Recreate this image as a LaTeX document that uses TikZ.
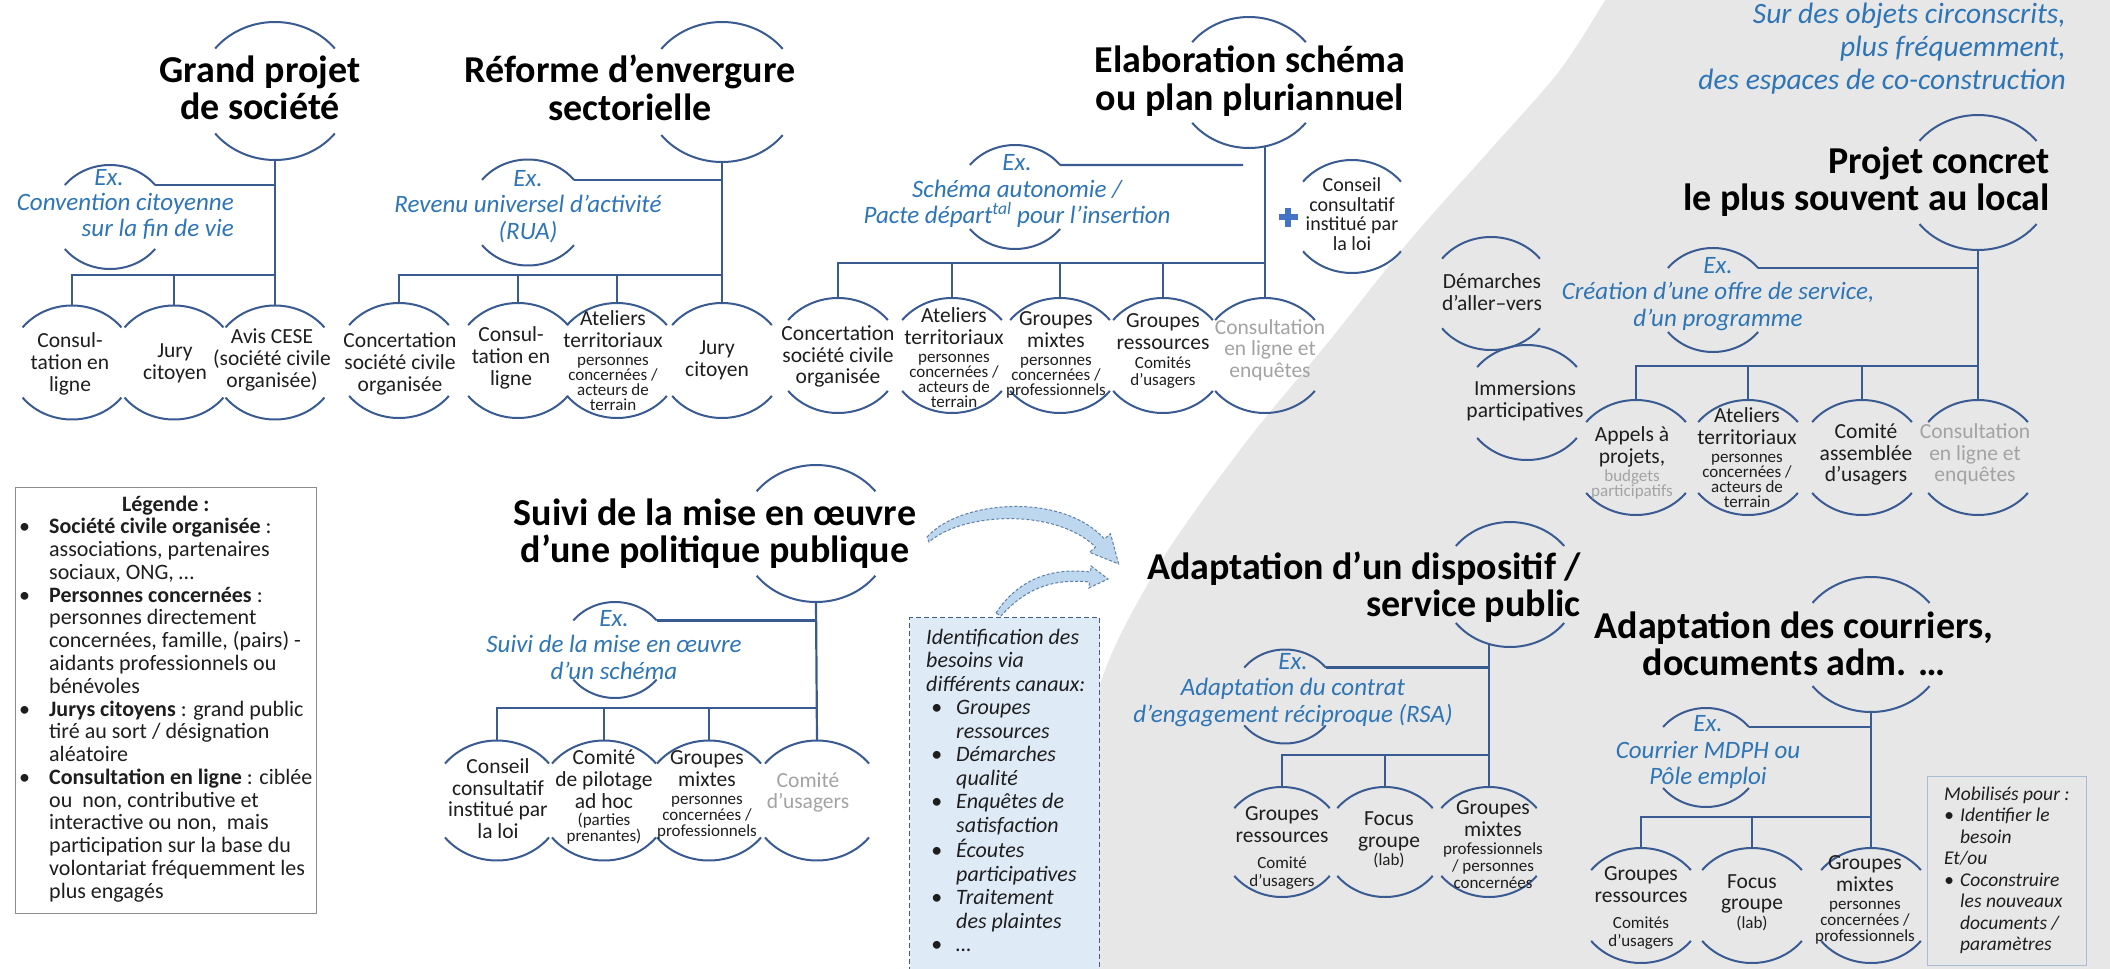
\documentclass[tikz,border=0pt]{standalone}
\usepackage{fontspec}
\setmainfont{Carlito}
\usetikzlibrary{calc}
\definecolor{ln}{HTML}{3A5A92}
\definecolor{exb}{HTML}{2E75B6}
\definecolor{gt}{HTML}{A3A3A3}
\definecolor{bgg}{HTML}{E7E7E7}
\definecolor{txt}{HTML}{1E1E1E}
\definecolor{boxf}{HTML}{DEEBF7}
\definecolor{boxd}{HTML}{3F5F8F}
\definecolor{arrf}{HTML}{BDD7EE}
\definecolor{arrd}{HTML}{5E7FA8}
\definecolor{plusc}{HTML}{4472C4}
\definecolor{mobd}{HTML}{A9BCD3}
\definecolor{legd}{HTML}{8C8C8C}
\newcommand\sm{\fontsize{17}{15}\selectfont}
\newcommand\smg{\fontsize{17}{15}\selectfont\color{gt}}
\newcommand\bub[4]{%
  \coordinate (#1) at (#2,#3);
  \coordinate (#1t) at (#2,{#3-#4});
  \coordinate (#1b) at (#2,{#3+#4});
  \coordinate (#1r) at ({#2+1.1*#4*cos(38)},{#3-#4*sin(38)});
  \draw[arcst,shift={(#2,#3)}] plot[domain=38:142,samples=30,smooth] ({1.1*#4*cos(\x)},{#4*sin(\x)});
  \draw[arcst,shift={(#2,#3)}] plot[domain=218:322,samples=30,smooth] ({1.1*#4*cos(\x)},{#4*sin(\x)});
}
\tikzset{
  arcst/.style={draw=ln,line width=2pt},
  conn/.style={draw=ln,line width=2.2pt},
  ttl/.style={font=\fontsize{38}{37.5}\selectfont\bfseries,align=center,inner sep=0pt,text=black},
  ch/.style={font=\fontsize{21.5}{21.7}\selectfont,align=center,inner sep=0pt,text=txt},
  chg/.style={ch,text=gt},
  exs/.style={font=\fontsize{25}{26.5}\selectfont\itshape,align=center,inner sep=0pt,text=exb},
  blockarrow/.style={draw=arrd,dash pattern=on 3pt off 2pt,line width=1pt,fill=arrf},
}
\begin{document}
\begin{tikzpicture}[x=1pt,y=-1pt]
\useasboundingbox (0,0) rectangle (2110,969);
\fill[white] (0,0) rectangle (2110,969);
\fill[bgg] plot[smooth,tension=0.55] coordinates {(1608,-5) (1560,70) (1490,150) (1410,240) (1330,340) (1240,450) (1150,580) (1090,720) (1060,975)} -- (2115,975) -- (2115,-5) -- cycle;

% ---------- legend
\node[draw=legd,line width=1.2pt,fill=white,minimum width=301pt,minimum height=426pt,anchor=north west,inner sep=0pt] (legbox) at (15,487) {};
\node[anchor=north west,inner sep=0pt,text=txt,font=\fontsize{22}{22.75}\selectfont] (legtxt) at (19,495) {\begin{tabular}{@{}p{30pt}@{}l@{}}
\multicolumn{2}{c}{\textbf{Légende :}}\\
•&\textbf{Société civile organisée} :\\
&associations, partenaires\\
&sociaux, ONG, …\\
•&\textbf{Personnes concernées} :\\
&personnes directement\\
&concernées, famille, (pairs) -\\
&aidants professionnels ou\\
&bénévoles\\
•&\textbf{Jurys citoyens} : grand public\\
&tiré au sort / désignation\\
&aléatoire\\
•&\textbf{Consultation en ligne} : ciblée\\
&ou\ \ non, contributive et\\
&interactive ou non,\ \ mais\\
&participation sur la base du\\
&volontariat fréquemment les\\
&plus engagés
\end{tabular}};

% ---------- identification box
\node[draw=boxd,dash pattern=on 5pt off 3pt,line width=1.4pt,fill=boxf,minimum width=190pt,minimum height=375pt,anchor=north west,inner sep=0pt] (idbox) at (909,617) {};
\node[anchor=north west,inner sep=0pt,text=txt,font=\fontsize{22}{23.5}\selectfont\itshape] (idtxt) at (926,627.5) {\begin{tabular}{@{}p{30pt}@{}l@{}}
\multicolumn{2}{@{}l@{}}{Identification des}\\
\multicolumn{2}{@{}l@{}}{besoins via}\\
\multicolumn{2}{@{}l@{}}{différents canaux:}\\
\hspace{5pt}•&Groupes\\
&ressources\\
\hspace{5pt}•&Démarches\\
&qualité\\
\hspace{5pt}•&Enquêtes de\\
&satisfaction\\
\hspace{5pt}•&Écoutes\\
&participatives\\
\hspace{5pt}•&Traitement\\
&des plaintes\\
\hspace{5pt}•&…
\end{tabular}};

% ---------- mobilises box
\node[draw=mobd,line width=1.3pt,minimum width=159pt,minimum height=189pt,anchor=north west,inner sep=0pt] (mobbox) at (1927,776) {};
\node[anchor=north west,inner sep=0pt,text=txt,font=\fontsize{19.5}{21.5}\selectfont\itshape] (mobtxt) at (1944,785) {\begin{tabular}{@{}p{16pt}@{}l@{}}
\multicolumn{2}{@{}l@{}}{Mobilisés pour :}\\
•&Identifier le\\
&besoin\\
\multicolumn{2}{@{}l@{}}{Et/ou}\\
•&Coconstruire\\
&les nouveaux\\
&documents /\\
&paramètres
\end{tabular}};

% ---------- top right caption
\node[font=\fontsize{29.5}{33}\selectfont\itshape,text=exb,align=right,anchor=east,inner sep=0pt] (sur) at (2066,49) {Sur des objets circonscrits,\\plus fréquemment,\\des espaces de co-construction};

% ---------- arrows
\coordinate (a1s) at (927,537);
\coordinate (a2s) at (996,613);
\draw[blockarrow] (a1s) .. controls (960,500) and (1062,492) .. (1104.5,539) -- (1110.5,533.7) -- (1118.6,563.9) -- (1089.5,552.3) -- (1095.5,547) .. controls (1056,508) and (963,512) .. (929,542) -- cycle;
\draw[blockarrow] (a2s) .. controls (1017,581) and (1049,567) .. (1090.5,572) -- (1091.1,566) -- (1108,579) -- (1088.9,588) -- (1089.5,582) .. controls (1051,578) and (1024,590) .. (1001,616) -- cycle;

% ================= Tree 1
\bub{T1}{275}{91}{69}
\node[ttl] (T1n) at (260,88) {Grand projet\\de société};
\bub{E1}{110}{217}{52}
\node[exs] (E1a) at (109,178) {Ex.};
\node[exs,align=right,anchor=east] (E1n) at (234,216.5) {Convention citoyenne\\sur la fin de vie};
\bub{B11}{72}{362.5}{57}
\node[ch] (N11) at (70,364) {Consul-\\tation en\\ligne};
\bub{B12}{174}{362.5}{57}
\node[ch] (N12) at (175,363) {Jury\\citoyen};
\bub{B13}{275}{362.5}{57}
\node[ch] (N13) at (272,360) {Avis CESE\\(société civile\\organisée)};
\coordinate (bar1) at (275,275);
\draw[conn] (T1b) -- (B13t);
\draw[conn] (E1r) -- (E1r -| T1b);
\draw[conn] (B11t) |- (bar1);
\draw[conn] (B12t) -- (B12t |- bar1);

% ================= Tree 2
\bub{T2}{722}{92}{70}
\node[ttl] (T2n) at (630,88) {Réforme d’envergure\\sectorielle};
\bub{E2}{528}{212.5}{53}
\node[exs] (E2n) at (528,206.5) {Ex.\\Revenu universel d’activité\\(RUA)};
\bub{B21}{399}{360.5}{57.5}
\node[ch] (N21) at (400,364) {Concertation\\société civile\\organisée};
\bub{B22}{518}{360.5}{57.5}
\node[ch] (N22) at (511,358) {Consul-\\tation en\\ligne};
\bub{B23}{617}{360.5}{57.5}
\node[ch] (N23) at (613,361) {Ateliers\\territoriaux\\[-3.5pt]\sm personnes\\[-6.7pt]\sm concernées /\\[-6.7pt]\sm acteurs de\\[-6.7pt]\sm terrain};
\bub{B24}{722}{360.5}{57.5}
\node[ch] (N24) at (717,360) {Jury\\citoyen};
\coordinate (bar2) at (722,275);
\draw[conn] (T2b) -- (B24t);
\draw[conn] (E2r) -- (E2r -| T2b);
\draw[conn] (B21t) |- (bar2);
\draw[conn] (B22t) -- (B22t |- bar2);
\draw[conn] (B23t) -- (B23t |- bar2);

% ================= Tree 3
\bub{T3}{1249}{82.5}{65.5}
\node[ttl] (T3n) at (1250,81) {Elaboration schéma\\ou plan pluriannuel};
\coordinate (T3v) at (1265,146);
\bub{E3}{1015}{197}{52}
\node[exs] (E3n) at (1017,191) {Ex.\\Schéma autonomie /\\Pacte départ\textsuperscript{tal} pour l’insertion};
\coordinate (gap3) at (1243,165);
\bub{B31}{838}{355.5}{57.5}
\node[ch] (N31) at (838,356.5) {Concertation\\société civile\\organisée};
\bub{B32}{952}{355.5}{57.5}
\node[ch] (N32) at (954,358) {Ateliers\\territoriaux\\[-3.5pt]\sm personnes\\[-6.7pt]\sm concernées /\\[-6.7pt]\sm acteurs de\\[-6.7pt]\sm terrain};
\bub{B33}{1060}{355.5}{57.5}
\node[ch] (N33) at (1056,355) {Groupes\\mixtes\\[-3.5pt]\sm personnes\\[-6.7pt]\sm concernées /\\[-6.7pt]\sm professionnels};
\bub{B34}{1163}{355.5}{57.5}
\node[ch] (N34) at (1163,351) {Groupes\\ressources\\[-3pt]\sm Comités\\[-5pt]\sm d’usagers};
\bub{B35}{1265}{355.5}{57.5}
\node[chg] (N35) at (1270,350) {Consultation\\en ligne et\\enquêtes};
\coordinate (bar3) at (1265,263);
\draw[conn] (T3v) -- (B35t);
\draw[conn] (E3r) -- (gap3);
\draw[conn] (B31t) |- (bar3);
\draw[conn] (B32t) -- (B32t |- bar3);
\draw[conn] (B33t) -- (B33t |- bar3);
\draw[conn] (B34t) -- (B34t |- bar3);
\bub{CC3}{1352}{216.5}{56.5}
\node[ch,font=\fontsize{20}{19.5}\selectfont] (NC3) at (1352,214) {Conseil\\consultatif\\institué par\\la loi};
\coordinate (plus) at (1288,217);
\draw[plusc,line width=6.5pt] ($(plus)+(-9.5,0)$) -- ($(plus)+(9.5,0)$) ($(plus)+(0,-9.5)$) -- ($(plus)+(0,9.5)$);

% ================= Tree 4
\bub{T4}{1978}{182.5}{67.5}
\node[ttl,align=right,anchor=east] (T4n) at (2050,181.5) {Projet concret\\le plus souvent au local};
\bub{E4}{1713}{300}{52}
\node[exs] (E4n) at (1718,294) {Ex.\\Création d’une offre de service,\\d’un programme};
\bub{B41}{1636}{457.5}{57.5}
\node[ch] (N41) at (1632,463) {Appels à\\projets,\\[-3pt]\smg budgets\\[-6.7pt]\smg participatifs};
\bub{B42}{1748}{457.5}{57.5}
\node[ch] (N42) at (1747,458) {Ateliers\\territoriaux\\[-3.5pt]\sm personnes\\[-6.7pt]\sm concernées /\\[-6.7pt]\sm acteurs de\\[-6.7pt]\sm terrain};
\bub{B43}{1862}{457.5}{57.5}
\node[ch] (N43) at (1866,454.5) {Comité\\assemblée\\d’usagers};
\bub{B44}{1978}{457.5}{57.5}
\node[chg] (N44) at (1975,454.5) {Consultation\\en ligne et\\enquêtes};
\coordinate (bar4) at (1978,366);
\draw[conn] (T4b) -- (B44t);
\draw[conn] (E4r) -- (E4r -| T4b);
\draw[conn] (B41t) |- (bar4);
\draw[conn] (B42t) -- (B42t |- bar4);
\draw[conn] (B43t) -- (B43t |- bar4);
\bub{DEM}{1491}{293.5}{56.5}
\node[ch] (NDEM) at (1492,292) {Démarches\\d’aller–vers};
\bub{IMM}{1527}{402.5}{57.5}
\node[ch] (NIMM) at (1525,401) {Immersions\\participatives};

% ================= Tree 5
\bub{T5}{816}{533.5}{68.5}
\node[ttl] (T5n) at (715,533.5) {Suivi de la mise en œuvre\\d’une politique publique};
\bub{E5}{615}{650}{48}
\node[exs] (E5n) at (614,645) {Ex.\\Suivi de la mise en œuvre\\d’un schéma};
\bub{B51}{497}{800.5}{60}
\node[ch] (N51) at (498,798.5) {Conseil\\consultatif\\institué par\\la loi};
\bub{B52}{604}{800.5}{60}
\node[ch] (N52) at (604,797) {Comité\\de pilotage\\ad hoc\\[-4pt]\sm (parties\\[-6pt]\sm prenantes)};
\bub{B53}{709}{800.5}{60}
\node[ch] (N53) at (707,795) {Groupes\\mixtes\\[-3.5pt]\sm personnes\\[-6pt]\sm concernées /\\[-6pt]\sm professionnels};
\bub{B54}{817}{800.5}{60}
\node[chg] (N54) at (808,792.5) {Comité\\d’usagers};
\coordinate (bar5) at (817,708);
\draw[conn] (T5b) -- (B54t);
\draw[conn] (E5r) -- (E5r -| T5b);
\draw[conn] (B51t) |- (bar5);
\draw[conn] (B52t) -- (B52t |- bar5);
\draw[conn] (B53t) -- (B53t |- bar5);

% ================= Tree 6
\bub{T6}{1510}{584.5}{62.5}
\node[ttl,align=right,anchor=east] (T6n) at (1581,587) {Adaptation d’un dispositif /\\service public};
\coordinate (T6v) at (1489,644);
\bub{E6}{1285}{696.5}{47}
\node[exs] (E6n) at (1293,690) {Ex.\\Adaptation du contrat\\d’engagement réciproque (RSA)};
\bub{B61}{1282}{842}{55}
\node[ch] (N61) at (1282,848) {Groupes\\ressources\\[4pt]\sm Comité\\[-4pt]\sm d’usagers};
\bub{B62}{1385}{842}{55}
\node[ch] (N62) at (1389,840) {Focus\\groupe\\[-3.5pt]\sm (lab)};
\bub{B63}{1489}{842}{55}
\node[ch] (N63) at (1493,845) {Groupes\\mixtes\\[-3.5pt]\sm professionnels\\[-4.7pt]\sm / personnes\\[-4.7pt]\sm concernées};
\coordinate (bar6) at (1489,755);
\draw[conn] (T6v) -- (B63t);
\draw[conn] (E6r) -- (E6r -| T6v);
\draw[conn] (B61t) |- (bar6);
\draw[conn] (B62t) -- (B62t |- bar6);

% ================= Tree 7
\bub{T7}{1871}{644.5}{67.5}
\node[ttl] (T7n) at (1794,644) {Adaptation des courriers,\\documents adm. …};
\bub{E7}{1706}{757.5}{49.5}
\node[exs] (E7n) at (1708,752) {Ex.\\Courrier MDPH ou\\Pôle emploi};
\bub{B71}{1641}{905.5}{57.5}
\node[ch] (N71) at (1641,908) {Groupes\\ressources\\[4pt]\sm Comités\\[-4pt]\sm d’usagers};
\bub{B72}{1752}{905.5}{57.5}
\node[ch] (N72) at (1752,902.5) {Focus\\groupe\\[-3.5pt]\sm (lab)};
\bub{B73}{1871}{905.5}{57.5}
\node[ch] (N73) at (1865,900) {Groupes\\mixtes\\[-3.5pt]\sm personnes\\[-6pt]\sm concernées /\\[-6pt]\sm professionnels};
\coordinate (bar7) at (1871,817);
\draw[conn] (T7b) -- (B73t);
\draw[conn] (E7r) -- (E7r -| T7b);
\draw[conn] (B71t) |- (bar7);
\draw[conn] (B72t) -- (B72t |- bar7);
\end{tikzpicture}
\end{document}
